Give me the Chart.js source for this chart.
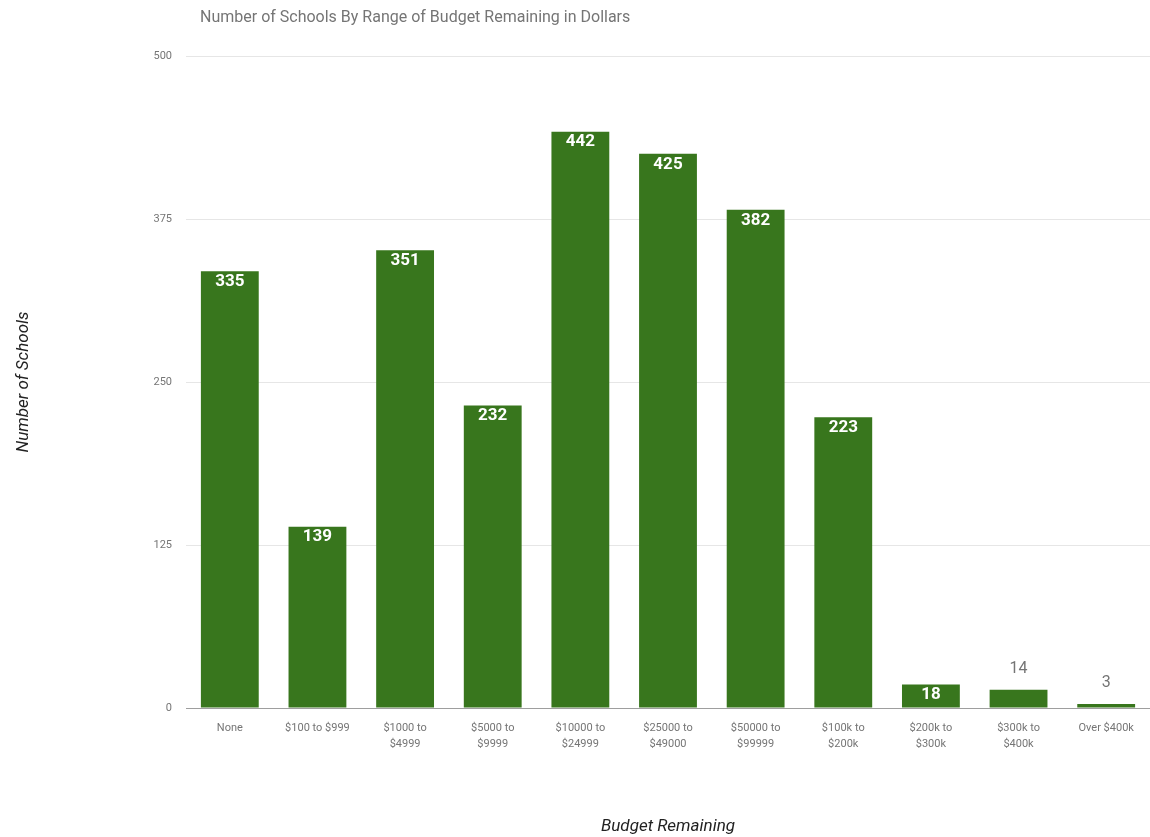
<!DOCTYPE html>
<html>
<head>
<meta charset="utf-8">
<title>Schools by budget remaining</title>
<script src="https://cdn.jsdelivr.net/npm/chart.js@4/dist/chart.umd.min.js"></script>
<style>
  html, body { margin: 0; padding: 0; background: #fff; }
  #wrap { width: 1150px; height: 837px; }
</style>
</head>
<body>
<div id="wrap"><canvas id="grafico"></canvas></div>
<script>
// datos
const categorias = [
  'None', '$100 to $999', ['$1000 to', '$4999'], ['$5000 to', '$9999'],
  ['$10000 to', '$24999'], ['$25000 to', '$49000'], ['$50000 to', '$99999'],
  ['$100k to', '$200k'], ['$200k to', '$300k'], ['$300k to', '$400k'], 'Over $400k'
];
const escuelas = [335, 139, 351, 232, 442, 425, 382, 223, 18, 14, 3];
const ticksY = [0, 125, 250, 375, 500];

const titulo = 'Number of Schools By Range of Budget Remaining in Dollars';
const verde = '#38761d';
const gris = '#757575';

// titulo arriba a la izquierda
const textos = {
  id: 'textos',
  afterDraw(chart) {
    const ctx = chart.ctx;
    ctx.save();
    ctx.font = '16px Roboto';
    ctx.fillStyle = gris;
    ctx.textAlign = 'left';
    ctx.textBaseline = 'middle';
    ctx.fillText(titulo, 200, 18);
    ctx.restore();
  }
};

// valores sobre/dentro de cada barra
const etiquetas = {
  id: 'etiquetas',
  afterDatasetsDraw(chart) {
    const ctx = chart.ctx;
    const meta = chart.getDatasetMeta(0);
    ctx.save();
    ctx.textAlign = 'center';
    meta.data.forEach((bar, i) => {
      const v = escuelas[i];
      const alto = bar.base - bar.y;
      if (alto >= 20) {
        ctx.font = 'bold 17px Roboto';
        ctx.fillStyle = '#ffffff';
        ctx.textBaseline = 'top';
        ctx.fillText(v, bar.x, bar.y + 2);
      } else {
        ctx.font = '16px Roboto';
        ctx.fillStyle = gris;
        ctx.textBaseline = 'bottom';
        ctx.fillText(v, bar.x, bar.y - 13);
      }
    });
    ctx.restore();
  }
};

new Chart(document.getElementById('grafico'), {
  type: 'bar',
  data: {
    labels: categorias,
    datasets: [{
      data: escuelas,
      backgroundColor: verde,
      categoryPercentage: 1,
      barPercentage: 0.66
    }]
  },
  options: {
    responsive: true,
    maintainAspectRatio: false,
    animation: false,
    layout: { padding: { top: 56, right: 0, left: 0, bottom: 0 } },
    plugins: {
      legend: { display: false },
      tooltip: { enabled: false }
    },
    scales: {
      x: {
        grid: { display: false },
        border: { display: false },
        ticks: {
          color: gris,
          font: { family: 'Roboto', size: 11, lineHeight: 1.45 },
          padding: 4,
          maxRotation: 0,
          autoSkip: false
        },
        title: {
          display: true,
          text: 'Budget Remaining',
          color: '#222',
          font: { family: 'Roboto', size: 17, style: 'italic' },
          padding: { top: 0, bottom: 0 }
        },
        afterFit(scale) { scale.height = 129; }
      },
      y: {
        min: 0,
        max: 500,
        afterBuildTicks(scale) { scale.ticks = ticksY.map(v => ({ value: v })); },
        grid: {
          drawTicks: false,
          color: c => c.tick && c.tick.value === 0 ? '#9e9e9e' : '#e6e6e6'
        },
        border: { display: false },
        ticks: {
          color: gris,
          font: { family: 'Roboto', size: 11 },
          padding: 14
        },
        title: {
          display: true,
          text: 'Number of Schools',
          color: '#222',
          font: { family: 'Roboto', size: 17, style: 'italic' },
          padding: { top: 14, bottom: 0 }
        },
        afterFit(scale) { scale.width = 186; }
      }
    }
  },
  plugins: [textos, etiquetas]
});
</script>
</body>
</html>
